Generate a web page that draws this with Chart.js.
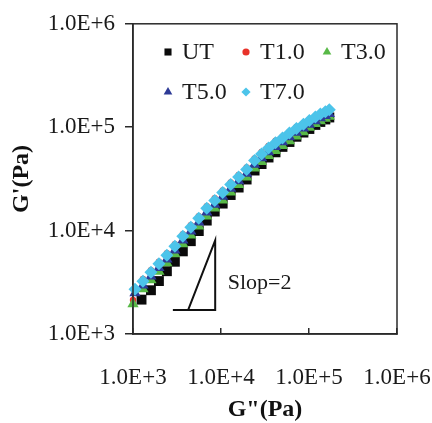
<!DOCTYPE html>
<html>
<head>
<meta charset="utf-8">
<script src="https://cdn.jsdelivr.net/npm/chart.js@4.4.1/dist/chart.umd.min.js"></script>
<style>
  html, body { margin: 0; padding: 0; background: #fff; }
  canvas { display: block; }
</style>
</head>
<body>
<canvas id="chart" width="432" height="423"></canvas>
<script>
// series (G'' on x, G' on y)
const seriesNames = ['UT', 'T1.0', 'T3.0', 'T5.0', 'T7.0'];

const utX = [1250, 1599, 1970, 2427, 2990, 3684, 4538, 5591, 6888, 8486, 10450, 12880, 15870, 19550, 24080, 28910, 34690, 41640, 49960, 59980, 71990, 86430, 101000, 118200, 134600, 153400, 170200];
const utY = [2150, 2650, 3250, 4050, 5000, 6300, 7900, 9900, 12500, 15290, 18250, 22090, 26090, 31200, 38110, 44020, 50920, 57160, 64500, 71940, 80810, 88730, 96110, 105200, 112400, 118800, 124200];

const t1X = [1000, 1298, 1599, 1970, 2427, 2990, 3684, 4538, 5591, 6888, 8486, 10450, 12880, 15870, 19550, 24080, 28910, 34690, 41640, 49960, 59980, 71990, 86430, 101000, 118200, 134600, 153400, 170200];
const t1Y = [2130, 3400, 4150, 5010, 6050, 7390, 9230, 11270, 13770, 17190, 20530, 24510, 29290, 34590, 40850, 49900, 57640, 65860, 73920, 80960, 90300, 100300, 109000, 118100, 127700, 136500, 144200, 150700];

const t3X = [1000, 1298, 1599, 1970, 2427, 2990, 3684, 4538, 5591, 6888, 8486, 10450, 12880, 15870, 19550, 24080, 28910, 34690, 41640, 49960, 59980, 71990, 86430, 101000, 118200, 134600, 153400, 170200];
const t3Y = [1950, 2725, 3328, 4019, 4854, 5927, 7400, 9038, 11040, 13780, 16460, 19660, 23490, 27740, 32760, 40020, 46230, 52810, 59280, 66070, 73690, 81780, 89800, 99590, 107700, 115100, 121600, 127100];

const t5X = [1053, 1298, 1599, 1970, 2427, 2990, 3684, 4538, 5591, 6888, 8486, 10450, 12880, 15870, 19550, 24080, 28910, 34690, 41640, 49960, 59980, 71990, 86430, 101000, 118200, 134600, 153400, 170200];
const t5Y = [2485, 2968, 3625, 4378, 5288, 6456, 8061, 9845, 12020, 15020, 17930, 21410, 25580, 30210, 35690, 43590, 50350, 57530, 64570, 71970, 80270, 89080, 97810, 106000, 114600, 122400, 129400, 135200];

const t7X = [1053, 1298, 1599, 1970, 2427, 2990, 3684, 4538, 5591, 6888, 8486, 10450, 12880, 15870, 19550, 24080, 28910, 34690, 41640, 49960, 59980, 71990, 86430, 101000, 118200, 134600, 153400, 170200];
const t7Y = [2716, 3244, 3962, 4785, 5779, 7056, 8810, 10760, 13140, 16410, 19600, 23400, 27960, 33020, 39000, 47640, 55030, 62870, 70570, 78660, 87730, 97360, 106900, 115800, 125200, 133800, 141400, 147800];

// slope triangle drawn in the plot
const slopeX = [2838, 8590, 8590, 4227];
const slopeY = [1703, 1703, 8063, 1703];
const slopeText = 'Slop=2';
const slopeTextAt = [11900, 3100];

const xTicks = [1e3, 1e4, 1e5, 1e6];
const xTickLabels = ['1.0E+3', '1.0E+4', '1.0E+5', '1.0E+6'];
const yTicks = [1e3, 1e4, 1e5, 1e6];
const yTickLabels = ['1.0E+3', '1.0E+4', '1.0E+5', '1.0E+6'];

const serif = "'Liberation Serif', 'DejaVu Serif', serif";
Chart.defaults.font.family = serif;
Chart.defaults.color = '#1a1a1a';

function pts(xs, ys) {
  return xs.map((x, i) => ({ x: x, y: ys[i] }));
}

function series(label, xs, ys, color, style, r, order) {
  return {
    label: label,
    data: pts(xs, ys),
    backgroundColor: color,
    borderColor: color,
    pointStyle: style,
    pointRadius: r,
    pointBorderWidth: 0,
    showLine: false,
    clip: false,
    order: order
  };
}

const datasets = [
  series(seriesNames[0], utX, utY, '#0a0a0a', 'rect', 7, 6),
  series(seriesNames[1], t1X, t1Y, '#e8322a', 'circle', 3.2, 5),
  series(seriesNames[2], t3X, t3Y, '#58b947', 'triangle', 6.5, 4),
  series(seriesNames[3], t5X, t5Y, '#2d3a96', 'triangle', 6.5, 3),
  series(seriesNames[4], t7X, t7Y, '#4cc4ea', 'rectRot', 6.5, 2),
  {
    type: 'line',
    label: 'slope',
    data: pts(slopeX, slopeY),
    borderColor: '#111',
    borderWidth: 2,
    pointRadius: 0,
    showLine: true,
    fill: false,
    order: 1
  }
];

// box round the plot area
const framePlugin = {
  id: 'frame',
  afterDraw(chart) {
    const a = chart.chartArea, ctx = chart.ctx;
    ctx.save();
    ctx.strokeStyle = '#2a2a2a';
    ctx.lineWidth = 1.5;
    ctx.strokeRect(a.left, a.top, a.right - a.left, a.bottom - a.top);
    ctx.restore();
  }
};

// legend in two rows inside the plot
const legendSlots = [[168, 52], [246, 52], [327, 52], [168, 92], [246, 92]];
const legendSizes = { rect: 5, circle: 3.6, triangle: 5, rectRot: 4.6 };
const legendPlugin = {
  id: 'innerLegend',
  afterDraw(chart) {
    const ctx = chart.ctx;
    ctx.save();
    ctx.font = '24px ' + serif;
    ctx.textBaseline = 'middle';
    ctx.textAlign = 'left';
    seriesNames.forEach((name, i) => {
      const ds = chart.data.datasets[i];
      const [mx, my] = legendSlots[i];
      ctx.fillStyle = ds.backgroundColor;
      Chart.helpers.drawPoint(ctx, { pointStyle: ds.pointStyle, radius: legendSizes[ds.pointStyle], rotation: 0, borderWidth: 0 }, mx, my);
      ctx.fillStyle = '#1a1a1a';
      ctx.fillText(name, mx + 14, my + 1);
    });
    ctx.restore();
  }
};

const slopeLabelPlugin = {
  id: 'slopeLabel',
  afterDatasetsDraw(chart) {
    const ctx = chart.ctx;
    const px = chart.scales.x.getPixelForValue(slopeTextAt[0]);
    const py = chart.scales.y.getPixelForValue(slopeTextAt[1]);
    ctx.save();
    ctx.font = '22px ' + serif;
    ctx.fillStyle = '#1a1a1a';
    ctx.textBaseline = 'middle';
    ctx.fillText(slopeText, px, py);
    ctx.restore();
  }
};

new Chart(document.getElementById('chart'), {
  type: 'scatter',
  data: { datasets: datasets },
  options: {
    responsive: false,
    animation: false,
    layout: { padding: { top: 23, right: 0, bottom: 0, left: 0 } },
    plugins: { legend: { display: false }, tooltip: { enabled: false } },
    scales: {
      x: {
        type: 'logarithmic',
        position: 'bottom',
        min: 1e3,
        max: 1e6,
        afterBuildTicks: s => { s.ticks = xTicks.map(v => ({ value: v })); },
        afterFit: s => { s.height = 89; s.paddingLeft = 34; s.paddingRight = 35; },
        ticks: {
          autoSkip: false,
          maxRotation: 0,
          padding: 36,
          font: { size: 23 },
          color: '#1a1a1a',
          callback: (v, i) => xTickLabels[i]
        },
        grid: { drawOnChartArea: false, drawTicks: true, tickLength: -6, color: '#2a2a2a', lineWidth: 1.5 },
        border: { display: true, color: '#2a2a2a', width: 1.5 },
        title: {
          display: true,
          text: 'G"(Pa)',
          color: '#111',
          font: { size: 24, weight: 'bold', lineHeight: 1 },
          padding: { top: 0, bottom: 1 }
        }
      },
      y: {
        type: 'logarithmic',
        position: 'left',
        min: 1e3,
        max: 1e6,
        afterBuildTicks: s => { s.ticks = yTicks.map(v => ({ value: v })); },
        afterFit: s => { s.width = 133; },
        ticks: {
          autoSkip: false,
          padding: 10,
          font: { size: 23 },
          color: '#1a1a1a',
          callback: (v, i) => yTickLabels[i]
        },
        grid: { drawOnChartArea: false, drawTicks: true, tickLength: 8, color: '#2a2a2a', lineWidth: 1.5 },
        border: { display: true, color: '#2a2a2a', width: 1.5 },
        title: {
          display: true,
          text: "G'(Pa)",
          color: '#111',
          font: { size: 24, weight: 'bold', lineHeight: 1 },
          padding: { top: 10, bottom: 0 }
        }
      }
    }
  },
  plugins: [framePlugin, legendPlugin, slopeLabelPlugin]
});
</script>
</body>
</html>
